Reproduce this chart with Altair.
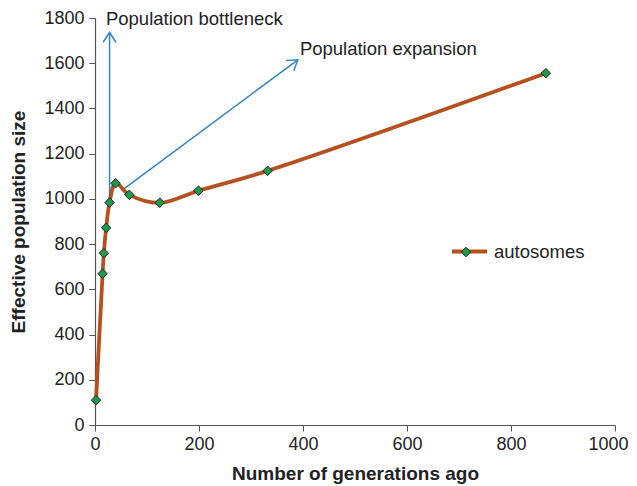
import altair as alt
import pandas as pd

# data
generations = [2, 14.6, 17, 21.5, 28, 39.5, 66, 124.5, 199, 332, 867]
effective_size = [110, 669, 760, 872, 984, 1069, 1018, 983, 1036, 1124, 1556]
series_name = "autosomes"

arrow_x = [28, 51]
arrow_y = [1001, 1037]
arrow_x2 = [28, 390]
arrow_y2 = [1736, 1615]
arrow_angle = [0, 53.4]

label_text = ["Population bottleneck", "Population expansion"]
label_x = [21, 394]
label_y = [1797, 1665]

FONT = "Liberation Sans"
LINE_COLOR = "#b5501f"
MARK_COLOR = "#1e9a4b"
ARROW_COLOR = "#2f86c6"

df = pd.DataFrame({"gen": generations, "ne": effective_size, "series": series_name})
arrows = pd.DataFrame({"x": arrow_x, "y": arrow_y, "x2": arrow_x2, "y2": arrow_y2, "angle": arrow_angle})
labels = pd.DataFrame({"x": label_x, "y": label_y, "text": label_text})

xscale = alt.Scale(domain=[0, 1000], nice=False)
yscale = alt.Scale(domain=[0, 1800], nice=False)

xaxis = alt.Axis(title="Number of generations ago", values=[0, 200, 400, 600, 800, 1000],
                 format="d", grid=False, tickSize=6, labelPadding=4, titlePadding=11,
                 labelFlush=False,
                 labelOffset=alt.condition("datum.value == 1000", alt.value(-7), alt.value(0)))
yaxis = alt.Axis(title="Effective population size", values=list(range(0, 1801, 200)),
                 format="d", grid=False, tickSize=6, labelPadding=5, titlePadding=15,
                 labelFlush=False)

line = alt.Chart(df).mark_line(interpolate="catmull-rom", strokeWidth=3.8).encode(
    x=alt.X("gen:Q", scale=xscale, axis=xaxis),
    y=alt.Y("ne:Q", scale=yscale, axis=yaxis),
    stroke=alt.Stroke("series:N", scale=alt.Scale(range=[LINE_COLOR]),
                      legend=alt.Legend(title=None, orient="none", legendX=355, legendY=214,
                                        symbolType="stroke", symbolSize=1225,
                                        symbolStrokeWidth=3.8, labelOffset=5,
                                        labelFontSize=18.5, labelFont=FONT, labelColor="#222")),
)

points = alt.Chart(df).mark_point(shape="diamond", filled=True, size=90, stroke="#222",
                                  strokeWidth=1, opacity=1).encode(
    x="gen:Q",
    y="ne:Q",
    fill=alt.Fill("series:N", scale=alt.Scale(range=[MARK_COLOR]),
                  legend=alt.Legend(title=None, orient="none", legendX=362, legendY=225,
                                    symbolType="diamond", symbolSize=90,
                                    symbolStrokeColor="#222", symbolStrokeWidth=1,
                                    labelExpr="''", labelFontSize=18)),
)

arrow_lines = alt.Chart(arrows).mark_rule(color=ARROW_COLOR, strokeWidth=1.5).encode(
    x="x:Q", y="y:Q", x2="x2:Q", y2="y2:Q"
)

arrow_heads = alt.Chart(arrows).mark_point(
    shape="M-1,1.5L0,0L1,1.5", filled=False, color=ARROW_COLOR, strokeWidth=1.5,
    size=169, opacity=1
).encode(
    x="x2:Q", y="y2:Q", angle=alt.Angle("angle:Q", scale=None)
)

texts = alt.Chart(labels).mark_text(align="left", baseline="middle", fontSize=18.5,
                                    font=FONT, color="#222").encode(
    x="x:Q", y="y:Q", text="text:N"
)

chart = alt.layer(arrow_lines, arrow_heads, line, points, texts).resolve_scale(
    stroke="independent", fill="independent"
).properties(
    width=520, height=407,
    autosize=alt.AutoSizeParams(type="none"),
    padding={"left": 87, "top": 10, "right": 14, "bottom": 60},
).configure_view(stroke=None).configure_axis(
    labelFont=FONT, labelFontSize=18, labelColor="#222",
    titleFont=FONT, titleFontSize=19, titleFontWeight="bold", titleColor="#222",
    domainColor="#555", tickColor="#555", domainWidth=1.2,
)

chart.save("out.html", embed_options={"renderer": "svg", "actions": False})
